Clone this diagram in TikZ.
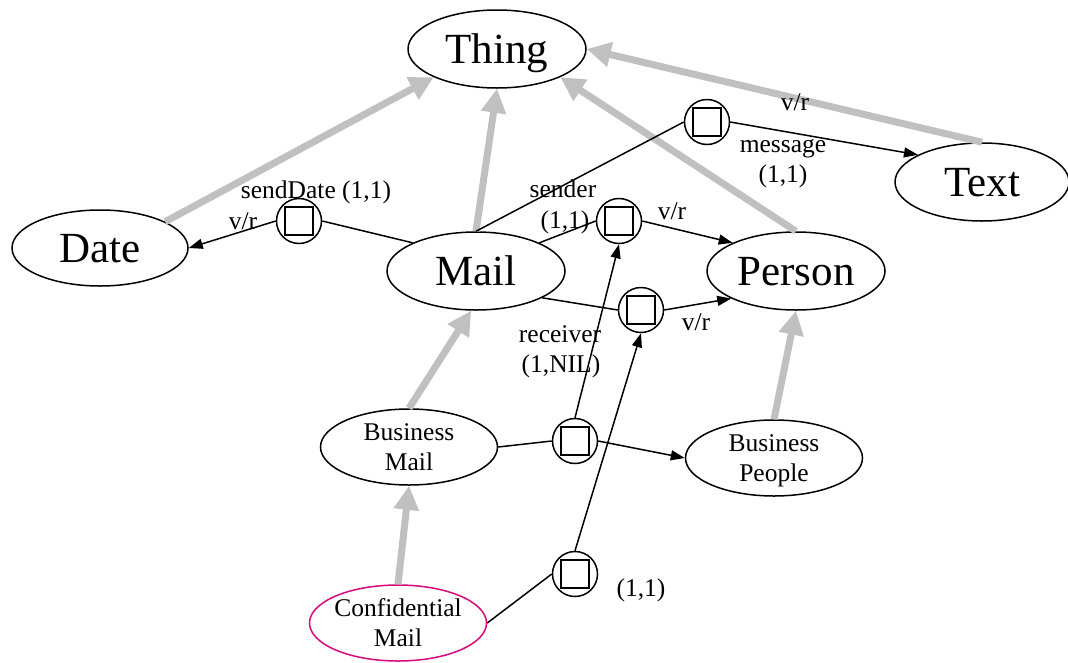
\documentclass[tikz,border=0pt]{standalone}
\usepackage{fontspec}
\setmainfont{Liberation Serif}
\usetikzlibrary{arrows.meta,shapes.geometric}
\definecolor{isagray}{RGB}{192,192,192}
\definecolor{confmag}{RGB}{215,10,125}
\tikzset{
  concept/.style={ellipse, draw=black, line width=1.5pt, minimum width=178pt,
    minimum height=78pt, inner sep=0pt, font=\fontsize{43}{50}\selectfont,
    text height=28pt, text depth=0pt},
  subconcept/.style={ellipse, draw=black, line width=1.5pt, minimum width=177pt,
    minimum height=76pt, inner sep=0pt},
  inner/.style={font=\fontsize{25.5}{30}\selectfont, align=center, inner sep=0pt,
    text depth=0pt},
  role/.style={circle, draw=black, line width=1.5pt, minimum size=45pt, inner sep=0pt,
    path picture={\draw[line width=2pt]
      ([shift={(-14pt,-14pt)}]path picture bounding box.center) rectangle
      ([shift={(14pt,14pt)}]path picture bounding box.center);}},
  link/.style={line width=1.5pt},
  vr/.style={link, -{Triangle[length=14pt,width=10pt]}},
  isa/.style={draw=isagray, line width=7pt, -{Triangle[length=24pt,width=24pt]}},
  lbl/.style={font=\fontsize{25.5}{30}\selectfont, anchor=base, inner sep=0pt},
}
\begin{document}
\begin{tikzpicture}[x=1pt,y=-1pt]
\useasboundingbox (0,0) rectangle (1068,662);

% concepts
\node[concept] (thing) at (497,49) {Thing};
\node[concept, minimum width=176pt, minimum height=76pt] (date) at (100,248) {Date};
\node[concept] (mail) at (476,271) {Mail};
\node[concept] (person) at (796,271) {Person};
\node[concept, minimum width=174pt] (text) at (982,182) {Text};
\node[subconcept, label={[inner]center:Business\\Mail}] (bmail) at (409,447) {};
\node[subconcept, label={[inner]center:Business\\People}] (bpeople) at (774,458) {};
\node[subconcept, draw=confmag, label={[inner]center:Confidential\\Mail}] (cmail) at (398,623) {};

% role restrictions
\node[role] (psd) at (299,221) {};
\node[role] (pmsg) at (707,122) {};
\node[role] (psnd) at (619,221) {};
\node[role] (prcv) at (641,310) {};
\node[role] (pbm) at (575,441) {};
\node[role] (pcm) at (575,574) {};

% subsumption links
\draw[isa] (date.22) -- (thing.204);
\draw[isa] (mail.north) -- (thing.south);
\draw[isa] (person.north) -- (thing.-24);
\draw[isa] (text.north) -- (thing.east);
\draw[isa] (bmail.north) -- (mail.263);
\draw[isa] (bpeople.north) -- (person.south);
\draw[isa] (cmail.north) -- (bmail.south);

% roles
\draw[link] (mail.156) -- (psd.east);
\draw[vr] (psd.west) -- (date.east);
\draw[link] (mail.north) -- (pmsg.west);
\draw[vr] (pmsg.east) -- (text.157);
\draw[link] (mail.24) -- (psnd.west);
\draw[vr] (psnd.east) -- (person.156);
\draw[link] (mail.-22) -- (prcv.west);
\draw[vr] (prcv.east) -- (person.203);
\draw[link] (bmail.east) -- (pbm.west);
\draw[vr] (pbm.east) -- (bpeople.west);
\draw[vr] (pbm.north) -- (psnd.south);
\draw[link] (cmail.east) -- (pcm.west);
\draw[vr] (pcm.north) -- (prcv.south);

% role labels
\node[lbl] (lsenddate) at (316,198) {sendDate (1,1)};
\node[lbl] (lvrdate) at (243,229) {v/r};
\node[lbl] (lmessage) at (783,152) {message};
\node[lbl] (lmessagenum) at (783,182) {(1,1)};
\node[lbl] (lvrtext) at (795,110) {v/r};
\node[lbl] (lsender) at (563,197) {sender};
\node[lbl] (lsendernum) at (565,228) {(1,1)};
\node[lbl] (lvrsender) at (672,219) {v/r};
\node[lbl] (lvrreceiver) at (696,330) {v/r};
\node[lbl] (lreceiver) at (560,342) {receiver};
\node[lbl] (lreceivernum) at (561,372) {(1,NIL)};
\node[lbl] (lconfnum) at (641,596) {(1,1)};
\end{tikzpicture}
\end{document}
